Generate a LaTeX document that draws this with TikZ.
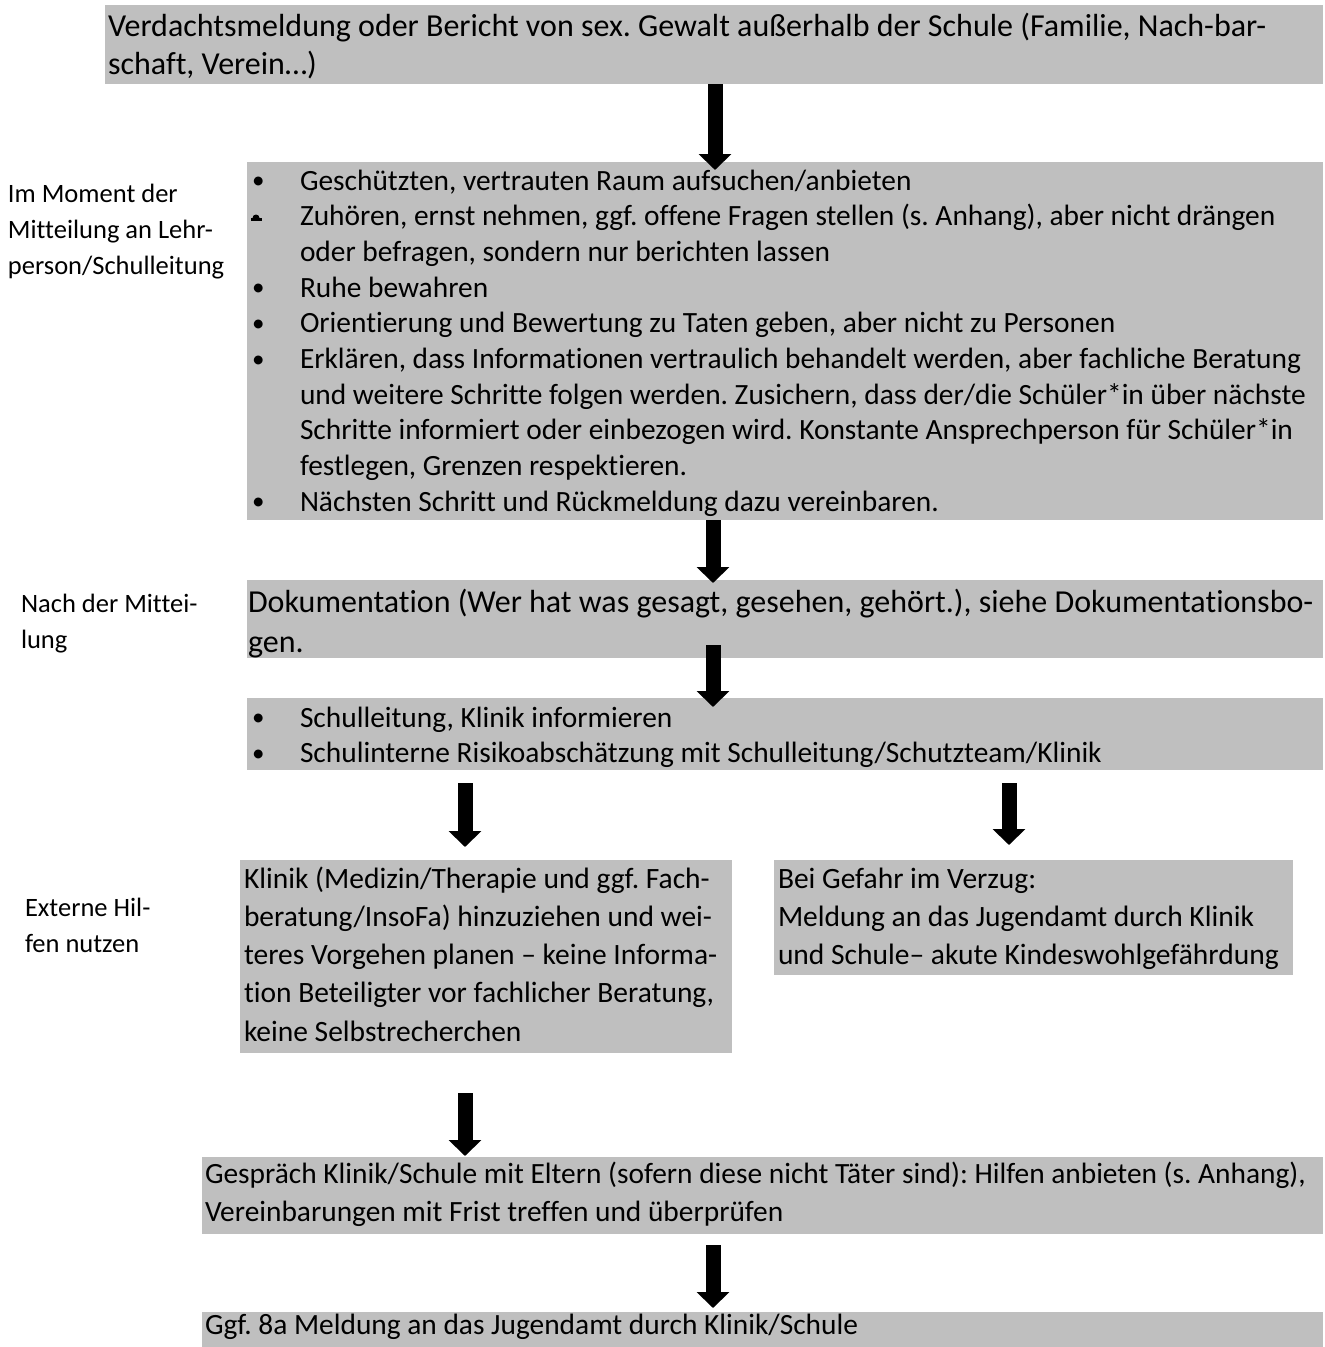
\documentclass[tikz,border=0pt]{standalone}
\usepackage{fontspec}
\setmainfont{Carlito}[Ligatures={NoCommon}]
\usetikzlibrary{arrows.meta}
\definecolor{boxgray}{RGB}{191,191,191}
\frenchspacing
\newcommand{\fsTop}{\fontsize{32}{38.3}\selectfont}
\newcommand{\fsA}{\fontsize{29.5}{38.3}\selectfont}
\newcommand{\fsB}{\fontsize{29.4}{35.7}\selectfont}
\newcommand{\fsC}{\fontsize{32}{40}\selectfont}
\newcommand{\fsL}{\fontsize{26.5}{36}\selectfont}
\newcommand{\bul}{\makebox[49pt][l]{\hspace*{1pt}\raisebox{1.5pt}{\fontsize{25}{25}\selectfont•}}}
\newcommand{\nobul}{\hspace*{49pt}}
\begin{document}
\begin{tikzpicture}[x=1pt,y=-1pt,
  graybox/.style={fill=boxgray, draw=none, inner sep=0pt, outer sep=0pt, anchor=north west},
  txt/.style={anchor=base west, inner sep=0pt, outer sep=0pt, text=black},
  bigarrow/.style={draw=black, line width=15pt, -{Triangle[width=32pt,length=16pt]}}]
\useasboundingbox (0,0) rectangle (1325,1347);
\fill[white] (0,0) rectangle (1325,1347);
% boxes
\node[graybox, minimum width=1218pt, minimum height=79pt] (b1) at (105,5) {};
\node[graybox, minimum width=1076pt, minimum height=358pt] (b2) at (247,162) {};
\node[graybox, minimum width=1076pt, minimum height=78pt] (b3) at (247,580) {};
\node[graybox, minimum width=1076pt, minimum height=72pt] (b4) at (247,698) {};
\node[graybox, minimum width=492pt, minimum height=193pt] (b5) at (240,860) {};
\node[graybox, minimum width=519pt, minimum height=115pt] (b6) at (774,860) {};
\node[graybox, minimum width=1121pt, minimum height=77pt] (b7) at (202,1157) {};
\node[graybox, minimum width=1121pt, minimum height=35pt] (b8) at (202,1312) {};
% texts
\node[txt] (t1) at (108,36) {\parbox[t]{1300pt}{\fsTop\raggedright Verdachtsmeldung oder Bericht von sex. Gewalt außerhalb der Schule (Familie, Nach-bar-\\schaft, Verein…)}};
\node[txt] (t2) at (251,190) {\parbox[t]{1300pt}{\fsB\raggedright
\bul Geschützten, vertrauten Raum aufsuchen/anbieten\\
\nobul Zuhören, ernst nehmen, ggf. offene Fragen stellen (s. Anhang), aber nicht drängen\\
\nobul oder befragen, sondern nur berichten lassen\\
\bul Ruhe bewahren\\
\bul Orientierung und Bewertung zu Taten geben, aber nicht zu Personen\\
\bul Erklären, dass Informationen vertraulich behandelt werden, aber fachliche Beratung\\
\nobul und weitere Schritte folgen werden. Zusichern, dass der/die Schüler*in über nächste\\
\nobul Schritte informiert oder einbezogen wird. Konstante Ansprechperson für Schüler*in\\
\nobul festlegen, Grenzen respektieren.\\
\bul Nächsten Schritt und Rückmeldung dazu vereinbaren.}};
% odd second bullet marker
\fill[black] (252.5,218) arc[start angle=180, end angle=0, radius=3.5pt] -- cycle;
\fill[black] (250.5,218) rectangle (261.5,220.5);
\node[txt] (l1) at (8,202) {\parbox[t]{300pt}{\fsL\raggedright Im Moment der\\Mitteilung an Lehr-\\person/Schulleitung}};
\node[txt] (t3) at (248,612) {\parbox[t]{1300pt}{\fsC\raggedright Dokumentation (Wer hat was gesagt, gesehen, gehört.), siehe Dokumentationsbo-\\gen.}};
\node[txt] (l2) at (21,612) {\parbox[t]{300pt}{\fsL\raggedright Nach der Mittei-\\lung}};
\node[txt] (t4) at (251,727) {\parbox[t]{1300pt}{\fsB\raggedright
\bul Schulleitung, Klinik informieren\\
\bul Schulinterne Risikoabschätzung mit Schulleitung/Schutzteam/Klinik}};
\node[txt] (t5) at (244,888) {\parbox[t]{600pt}{\fsA\raggedright Klinik (Medizin/Therapie und ggf. Fach-\\beratung/InsoFa) hinzuziehen und wei-\\teres Vorgehen planen – keine Informa-\\tion Beteiligter vor fachlicher Beratung,\\keine Selbstrecherchen}};
\node[txt] (t6) at (778,888) {\parbox[t]{600pt}{\fsA\raggedright Bei Gefahr im Verzug:\\Meldung an das Jugendamt durch Klinik\\und Schule– akute Kindeswohlgefährdung}};
\node[txt] (l3) at (25,916) {\parbox[t]{300pt}{\fsL\raggedright Externe Hil-\\fen nutzen}};
\node[txt] (t7) at (205,1183) {\parbox[t]{1300pt}{\fontsize{29.4}{38}\selectfont\raggedright Gespräch Klinik/Schule mit Eltern (sofern diese nicht Täter sind): Hilfen anbieten (s. Anhang),\\Vereinbarungen mit Frist treffen und überprüfen}};
\node[txt] (t8) at (205,1334) {\fsB Ggf. 8a Meldung an das Jugendamt durch Klinik/Schule};
% arrow axes
\coordinate (ax1) at (715,0);
\coordinate (ax2) at (713,0);
\coordinate (ax4) at (465,0);
\coordinate (ax5) at (1009,0);
% arrows
\draw[bigarrow] (b1.south -| ax1) -- ([yshift=-8pt]b2.north -| ax1);
\draw[bigarrow] (b2.south -| ax2) -- ([yshift=-3pt]b3.north -| ax2);
\draw[bigarrow] ([yshift=13pt]b3.south -| ax2) -- ([yshift=-9pt]b4.north -| ax2);
\draw[bigarrow] ([yshift=-13pt]b4.south -| ax4) -- ([yshift=13pt]b5.north -| ax4);
\draw[bigarrow] ([yshift=-13pt]b4.south -| ax5) -- ([yshift=15pt]b6.north -| ax5);
\draw[bigarrow] ([yshift=-40pt]b5.south -| ax4) -- ([yshift=1pt]b7.north -| ax4);
\draw[bigarrow] ([yshift=-11pt]b7.south -| ax2) -- ([yshift=4pt]b8.north -| ax2);
\end{tikzpicture}
\end{document}
